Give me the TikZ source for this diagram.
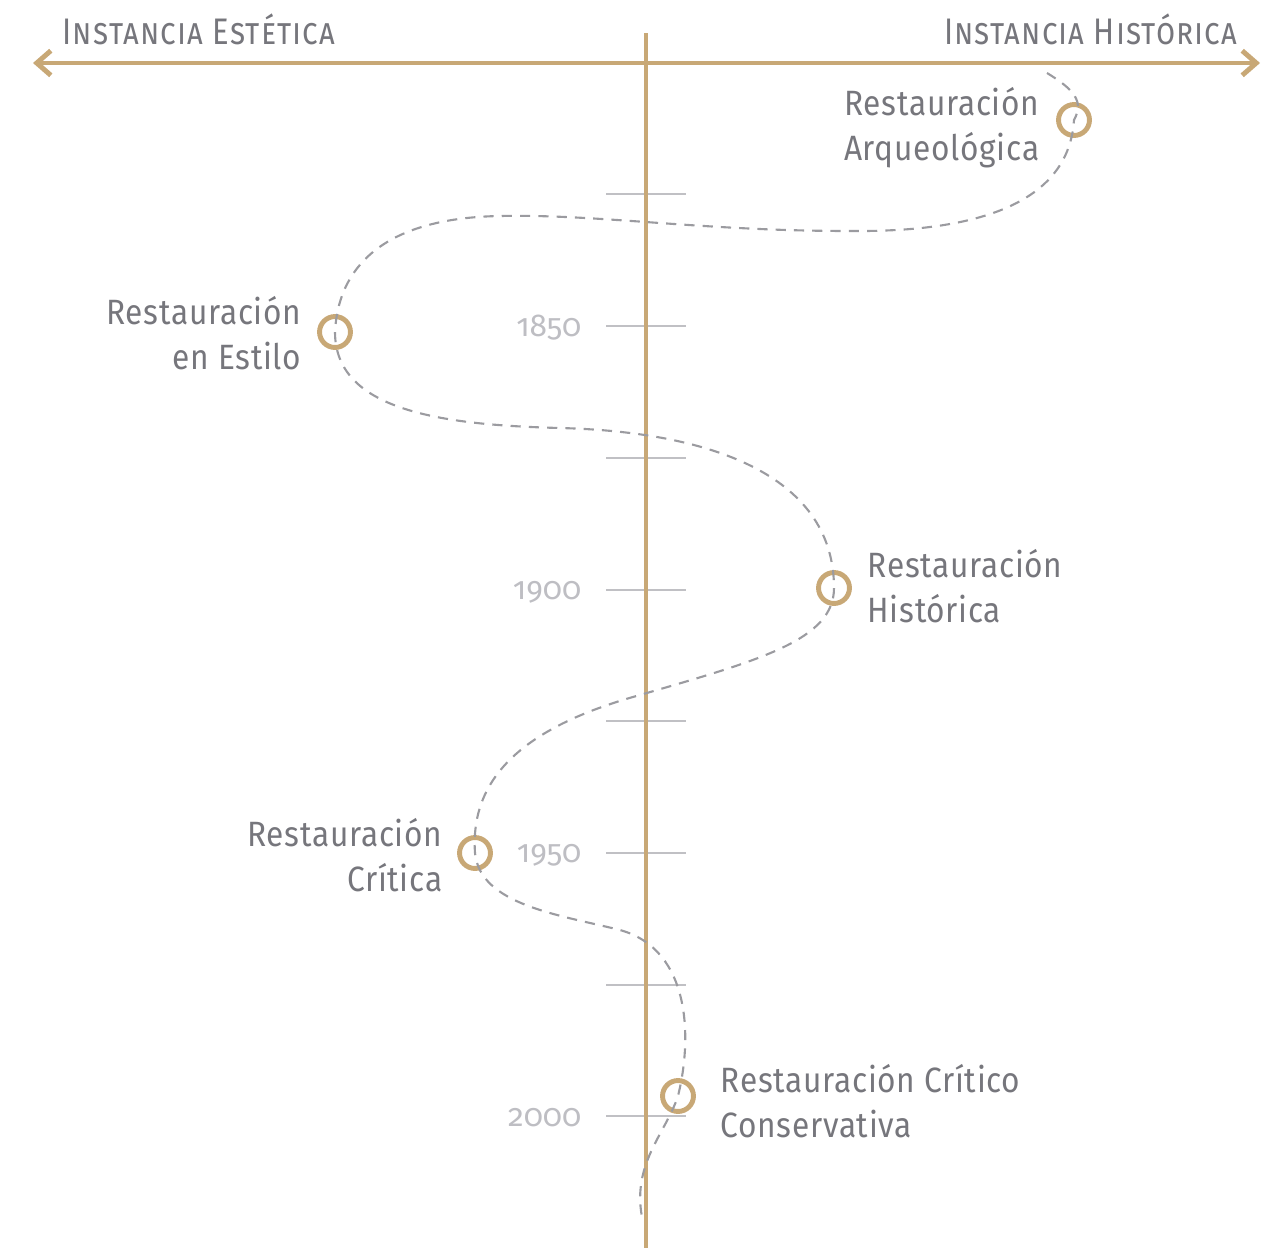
\documentclass[tikz,border=0pt]{standalone}
\usepackage{fontspec}
\setmainfont{Fira Sans}
\newfontfamily\erafont{Fira Sans}[LetterSpace=2.0,FakeStretch=0.9]
\newfontfamily\yearfont{Fira Sans}[Numbers=OldStyle]
\newfontfamily\headfont{Fira Sans}[Letters=SmallCaps,LetterSpace=3.0,FakeStretch=0.84]
\usetikzlibrary{arrows.meta}
\definecolor{sand}{RGB}{200,168,118}
\definecolor{tickgray}{RGB}{192,192,196}
\definecolor{pathgray}{RGB}{155,155,160}
\definecolor{textgray}{RGB}{118,118,124}
\definecolor{yeargray}{RGB}{190,190,195}
\tikzset{
  axisline/.style={line width=1.4pt, draw=sand},
  tickline/.style={line width=0.6pt, draw=tickgray},
  pathline/.style={line width=0.6pt, draw=pathgray, dash pattern=on 2.9pt off 2.3pt},
  ring/.style={circle, line width=1.4pt, draw=sand, minimum size=8.8pt, inner sep=0pt},
  era/.style={inner sep=0pt, text=textgray, font=\erafont\fontsize{10}{12.8}\selectfont},
  headtext/.style={inner sep=0pt, text=textgray, font=\headfont\fontsize{10.5}{12}\selectfont},
  yeartext/.style={inner sep=0pt, anchor=east, text=yeargray, font=\yearfont\fontsize{9}{11}\selectfont}
}
\begin{document}
\begin{tikzpicture}[x=0.01cm,y=-0.01cm]
	\useasboundingbox (0,0) rectangle (1269,1248);
	% ticks
	\draw[tickline] (606,194) -- (686,194);
	\draw[tickline] (606,326) -- (686,326);
	\draw[tickline] (606,458) -- (686,458);
	\draw[tickline] (606,590) -- (686,590);
	\draw[tickline] (606,721) -- (686,721);
	\draw[tickline] (606,853) -- (686,853);
	\draw[tickline] (606,985) -- (686,985);
	\draw[tickline] (606,1116) -- (686,1116);
	% axes
	\coordinate (axistop) at (646,33);
	\coordinate (axisbottom) at (646,1248);
	\coordinate (aestheticend) at (33,63);
	\coordinate (historicend) at (1260,63);
	\draw[axisline] (axistop) -- (axisbottom);
	\draw[axisline, {Straight Barb[length=4pt,width=7pt]}-{Straight Barb[length=4pt,width=7pt]}] (aestheticend) -- (historicend);
	\node[headtext, anchor=west] (aesthetic) at (62,29) {Instancia Estética};
	\node[headtext, anchor=east] (historic) at (1238,29) {Instancia Histórica};
	% years
	\node[yeartext] (y1850) at (582,328) {1850};
	\node[yeartext] (y1900) at (582,592) {1900};
	\node[yeartext] (y1950) at (582,855) {1950};
	\node[yeartext] (y2000) at (582,1118) {2000};
	% stages
	\node[ring] (arqueologica) at (1074,120) {};
	\node[ring] (estilo) at (335,332) {};
	\node[ring] (historica) at (834,588) {};
	\node[ring] (critica) at (475,853) {};
	\node[ring] (conservativa) at (678,1096) {};
	\node[era, anchor=east, align=right] (arqueologicatext) at (1040,128) {Restauración\\Arqueológica};
	\node[era, anchor=east, align=right] (estilotext) at (302,333) {Restauración\\en Estilo};
	\node[era, anchor=west, align=left] (historicatext) at (867,586) {Restauración\\Histórica};
	\node[era, anchor=east, align=right] (criticatext) at (443,855) {Restauración\\Crítica};
	\node[era, anchor=west, align=left] (conservativatext) at (720,1101) {Restauración Crítico\\Conservativa};
	% path
	\coordinate (pathstart) at (1047,73);
	\coordinate (pathend) at (643,1222);
	\draw[pathline] (pathstart) .. controls (1075,90) and (1084,102) .. (arqueologica.center)
		.. controls (1068,215) and (950,232) .. (850,231)
		.. controls (700,231) and (600,214) .. (500,216)
		.. controls (380,218) and (338,270) .. (estilo.center)
		.. controls (335,410) and (440,425) .. (560,428)
		.. controls (720,432) and (834,480) .. (historica.center)
		.. controls (834,640) and (760,660) .. (640,695)
		.. controls (520,728) and (470,780) .. (critica.center)
		.. controls (480,905) and (560,915) .. (620,930)
		.. controls (692,950) and (692,1040) .. (conservativa.center)
		.. controls (665,1135) and (630,1165) .. (pathend);
\end{tikzpicture}
\end{document}
